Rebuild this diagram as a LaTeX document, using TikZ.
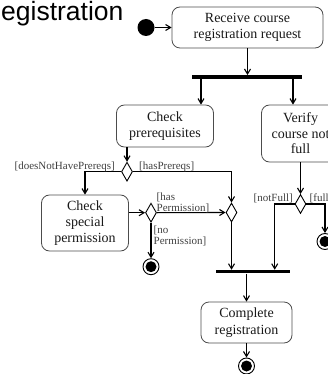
\documentclass[tikz,border=0pt]{standalone}
\usepackage{fontspec}
\setmainfont{Liberation Serif}
\newfontfamily\titlefont{Liberation Sans}
\usetikzlibrary{arrows.meta,shapes.geometric}

\begin{document}
\begin{tikzpicture}[x=1pt, y=-1pt,
    act/.style={draw=black!70, line width=0.8pt, rounded corners=8pt, align=center, inner sep=0pt,
        font=\fontsize{14}{15.5}\selectfont, text=black!90},
    bar/.style={fill=black, inner sep=0pt, minimum height=3.5pt},
    choice/.style={diamond, draw=black, line width=0.9pt, fill=white, inner sep=0pt,
        minimum width=11pt, minimum height=19pt},
    final/.style={circle, draw=black, line width=0.9pt, minimum size=16pt, inner sep=0pt,
        path picture={\fill (path picture bounding box.center) circle (5.5pt);}},
    guard/.style={inner sep=0pt, align=left, font=\fontsize{11}{11}\selectfont, text=black!75},
    flow/.style={line width=1.1pt, -{Straight Barb[length=5pt,width=6pt]}}]
    \useasboundingbox (0,0) rectangle (328,374);
    \clip (0,0) rectangle (328,374);

    % Title (cut by the slide edge)
    \node[anchor=base west, inner sep=0pt, font=\titlefont\fontsize{26.5}{30}\selectfont] (title) at (1,20.5) {egistration};

    % Start and request
    \node[circle, fill=black, minimum size=17pt, inner sep=0pt] (start) at (146,27.5) {};
    \node[act, minimum width=151pt, minimum height=41pt] (receive) at (247.5,27.5) {Receive course\\registration request};
    \node[bar, minimum width=110pt] (fork) at (247,77) {};
    \draw[flow] (start) -- (receive);
    \draw[flow] (receive.south) -- (receive.south |- fork.north);

    % Two checks
    \node[act, minimum width=97pt, minimum height=42pt] (prereq) at (165,126) {Check\\prerequisites};
    \node[act, minimum width=78pt, minimum height=57pt] (verify) at (300.5,133.5) {Verify\\course not\\full};
    \draw[flow] ([xshift=-46pt]fork.south) -- ([xshift=-46pt]fork.south |- prereq.north);
    \draw[flow] ([xshift=46pt]fork.south) -- ([xshift=46pt]fork.south |- verify.north);

    % Prerequisites branch
    \node[choice] (preChoice) at (127,171.7) {};
    \node[act, minimum width=87pt, minimum height=56pt, font=\fontsize{14}{16}\selectfont] (special) at (85,223) {Check\\special\\permission};
    \node[choice] (permChoice) at (151,212.7) {};
    \node[choice] (merge) at (231.5,212.5) {};
    \node[final] (endPerm) at (151,266.7) {};
    \draw[flow] (preChoice |- prereq.south) -- (preChoice.north);
    \draw[flow] (preChoice.west) -| (special.north);
    \draw[flow] (preChoice.east) -| (merge.north);
    \draw[flow] (special.east |- permChoice) -- (permChoice.west);
    \draw[flow] (permChoice.east) -- (merge.west);
    \draw[flow] (permChoice.south) -- (endPerm.north);
    \node[guard, anchor=base east] (noPrereqs) at (115,169) {[doesNotHavePrereqs]};
    \node[guard, anchor=base west] (hasPrereqs) at (139,169) {[hasPrereqs]};
    \node[guard, anchor=south west] (hasPerm) at (156.5,213) {[has\\Permission]};
    \node[guard, anchor=north west] (noPerm) at (153.5,226) {[no\\Permission]};

    % Course size branch
    \node[choice] (fullChoice) at (300.5,204) {};
    \node[final] (endFull) at (325,241.5) {};
    \draw[flow] (verify.south -| fullChoice) -- (fullChoice.north);
    \draw[flow] (fullChoice.east) -| (endFull.north);
    \node[guard, anchor=base east] (notFull) at (293,201) {[notFull]};
    \node[guard, anchor=base west] (isFull) at (309.5,201) {[full};

    % Join and completion
    \node[bar, minimum width=74pt] (join) at (253,271.7) {};
    \node[act, minimum width=91pt, minimum height=41pt, font=\fontsize{14}{16.5}\selectfont] (complete) at (246.5,322.5) {Complete\\registration};
    \node[final] (endAll) at (246.5,366) {};
    \draw[flow] (merge.south) -- (merge.south |- join.north);
    \draw[flow] (fullChoice.west) -| ([xshift=21.7pt]join.north);
    \draw[flow] (complete.north |- join.south) -- (complete.north);
    \draw[flow] (complete.south) -- (endAll.north);
\end{tikzpicture}
\end{document}
